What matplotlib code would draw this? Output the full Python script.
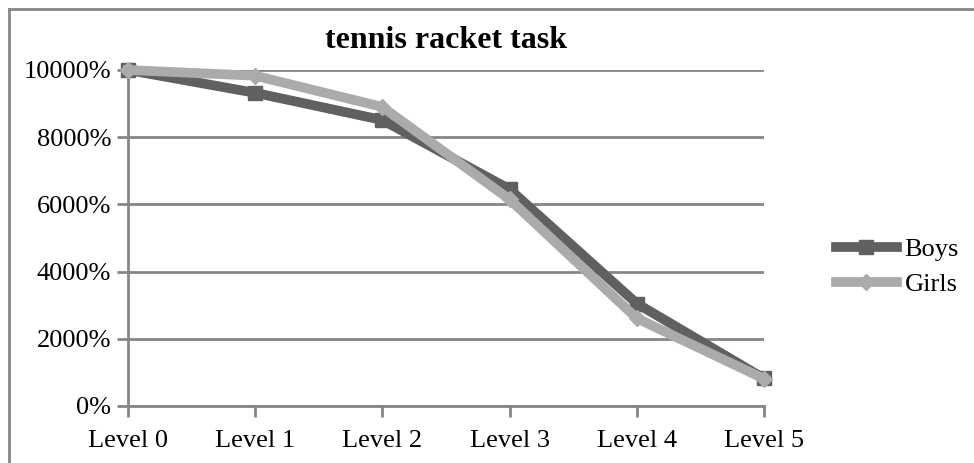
import matplotlib.pyplot as plt
from matplotlib.lines import Line2D
from matplotlib.ticker import FuncFormatter

levels = ['Level 0', 'Level 1', 'Level 2', 'Level 3', 'Level 4', 'Level 5']
boys = [10000, 9320, 8510, 6450, 3050, 820]
girls = [10000, 9830, 8900, 6150, 2610, 810]
y_ticks = [0, 2000, 4000, 6000, 8000, 10000]

plt.rcParams['font.family'] = ['Liberation Serif', 'DejaVu Serif']

axis_grey = '#868686'
boys_col = '#606060'
girls_col = '#ababab'

fig = plt.figure(figsize=(9.74, 4.63), dpi=100)
ax = fig.add_axes([128 / 974, 1 - 406 / 463, (764 - 128) / 974, (406 - 70) / 463])

x = list(range(len(levels)))
ax.plot(x, boys, color=boys_col, lw=7, marker='s', ms=10,
        solid_joinstyle='miter', clip_on=False, zorder=3, label='Boys')
ax.plot(x, girls, color=girls_col, lw=7, marker='D', ms=8,
        solid_joinstyle='miter', clip_on=False, zorder=4, label='Girls')

ax.set_xlim(0, len(levels) - 1)
ax.set_ylim(0, 10000)
ax.set_xticks(x)
ax.set_xticklabels(levels)
ax.set_yticks(y_ticks)
ax.yaxis.set_major_formatter(FuncFormatter(lambda v, _: f'{v:.0f}%'))

ax.grid(axis='y', color=axis_grey, lw=2)
ax.set_axisbelow(True)
for side in ('top', 'right'):
    ax.spines[side].set_visible(False)
for side in ('left', 'bottom'):
    ax.spines[side].set_color(axis_grey)
    ax.spines[side].set_linewidth(2)
ax.tick_params(axis='both', direction='out', length=8, width=2,
               color=axis_grey, labelsize=19)
ax.tick_params(axis='x', pad=9)
ax.tick_params(axis='y', pad=4)

fig.text(446 / 974, 1 - 40 / 463, 'tennis racket task', fontsize=23,
         fontweight='bold', ha='center', va='center')

handles = [Line2D([], [], color=boys_col, lw=7, marker='s', ms=10),
           Line2D([], [], color=girls_col, lw=7, marker='D', ms=8)]
fig.legend(handles, ['Boys', 'Girls'], loc='center left',
           bbox_to_anchor=(836 / 974, 1 - 267 / 463), frameon=False,
           fontsize=19, handlelength=2.3, handletextpad=0.3,
           labelspacing=0.45, borderaxespad=0, borderpad=0)

# chart frame (left and top edges)
fig.add_artist(Line2D([9 / 974, 9 / 974], [0, 1 - 9 / 463],
                      transform=fig.transFigure, color=axis_grey, lw=2))
fig.add_artist(Line2D([9 / 974, 1], [1 - 9 / 463, 1 - 9 / 463],
                      transform=fig.transFigure, color=axis_grey, lw=2))

fig.savefig('out.png', dpi=100)
